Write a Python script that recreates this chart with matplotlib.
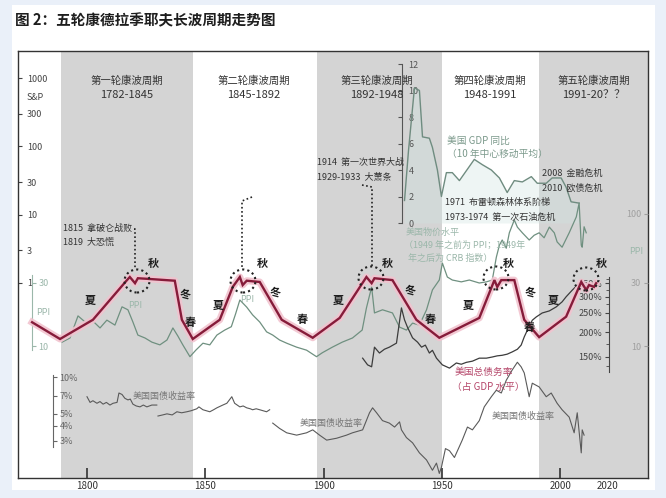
import matplotlib
matplotlib.use("Agg")
import matplotlib.pyplot as plt
from matplotlib.lines import Line2D
from matplotlib.patches import Ellipse, Rectangle
from matplotlib.ticker import FixedLocator, NullLocator
import numpy as np

plt.rcParams["font.family"] = ["Noto Sans CJK SC", "DejaVu Sans"]

W, H = 666, 498

# ---- data ----
CYCLE_NAMES = ["第一轮康波周期", "第二轮康波周期", "第三轮康波周期", "第四轮康波周期", "第五轮康波周期"]
CYCLE_PERIODS = ["1782-1845", "1845-1892", "1892-1948", "1948-1991", "1991-20？？"]
BAND_SPANS = [(1789, 1845), (1897, 1950), (1991, 2040)]

SP_TICKS = [1, 3, 10, 30, 100, 300, 1000]

# schematic Kondratiev wave
WAVE_YEARS = [1776.8, 1788.6, 1802.5, 1816.9, 1818.1, 1820.3, 1821.5, 1825.7, 1837.1, 1840.1, 1844.7,
              1856.1, 1861.6, 1864.6, 1865.8, 1867.5, 1873.0, 1882.3, 1895.4,
              1906.8, 1918.1, 1920.3, 1921.5, 1929.1, 1939.2, 1948.9,
              1965.8, 1972.2, 1973.4, 1975.1, 1980.6, 1984.8, 1991.1,
              2002.5, 2008.9, 2011.0, 2012.2, 2014.3, 2015.2]
WAVE_LEVEL = [27, 0, 31, 95, 100, 90, 98, 97, 94, 31, 0,
              31, 84, 100, 87, 94, 92, 31, 2,
              34, 100, 90, 98, 95, 31, 2,
              34, 95, 84, 95, 95, 31, 3,
              36, 92, 79, 87, 84, 90]

# producer prices (before 1949) / CRB index (after)
PPI_YEARS = [1789.5, 1792.8, 1796.2, 1799.2, 1802.1, 1805.5, 1808.4, 1811.8, 1814.8, 1817.3, 1819.4,
             1821.5, 1824.5, 1827.4, 1830.8, 1833.8, 1836.3, 1838.4, 1840.5, 1843.5, 1846.0, 1849.0,
             1851.9, 1854.9, 1858.2, 1861.0, 1862.8, 1864.6, 1867.5, 1870.0, 1873.0, 1875.9, 1878.5,
             1881.4, 1884.4, 1888.6, 1892.8, 1897.0, 1899.5, 1903.7, 1907.9, 1912.2, 1916.3, 1918.1,
             1920.3, 1921.5, 1924.9, 1929.1, 1932.1, 1935.0, 1937.6, 1940.5, 1943.5, 1946.0, 1948.9,
             1950.2, 1952.3, 1954.4, 1958.2, 1961.6, 1965.8, 1968.8, 1971.3, 1973.0, 1974.3, 1975.5,
             1977.2, 1978.5, 1980.6, 1981.9, 1984.0, 1986.9, 1989.0, 1991.1, 1993.2, 1995.4, 1997.5,
             1998.7, 2000.8, 2003.8, 2006.8, 2008.0, 2008.9, 2009.3, 2010.1, 2011.0]
PPI_VALUES = [10.7, 11.5, 16.9, 15.2, 15.7, 13.7, 15.7, 14.4, 19.8, 18.8, 15.2,
              12.1, 11.5, 10.7, 10.2, 11.1, 13.7, 11.9, 10.2, 8.3, 9.3, 10.5,
              10.2, 12.1, 13.2, 14.0, 17.5, 22.3, 19.7, 17.2, 15.2, 12.8, 12.1,
              11.1, 10.5, 9.8, 9.3, 8.3, 8.9, 9.8, 10.7, 11.5, 13.2, 19.4,
              28.0, 17.8, 18.8, 17.8, 13.9, 13.2, 14.9, 14.4, 18.8, 26.6, 31.6,
              42.5, 33.3, 31.6, 30.6, 31.6, 30.0, 30.6, 31.6, 47.0, 58.0, 63.5,
              55.0, 72.0, 90.0, 79.5, 72.0, 63.5, 69.0, 72.0, 66.0, 79.5, 72.0,
              61.4, 56.0, 72.0, 95.0, 121.0, 58.0, 56.0, 80.0, 72.0]

# US GDP growth, 10-year centred moving average (%)
GDP_YEARS = [1934.2, 1935.9, 1938.4, 1940.5, 1941.8, 1944.7, 1946.0, 1948.1, 1949.8, 1951.9, 1954.4,
             1957.4, 1963.7, 1967.1, 1970.9, 1974.3, 1977.6, 1980.6, 1984.0, 1987.8, 1990.3, 1994.1,
             1996.6, 2000.4, 2002.5, 2004.6, 2008.0]
GDP_VALUES = [1.7, 5.5, 10.2, 10.0, 6.5, 6.4, 5.7, 4.0, 2.0, 3.8, 3.8,
              3.2, 4.8, 4.4, 4.0, 3.4, 2.3, 3.2, 3.1, 3.5, 3.0, 3.0,
              3.4, 3.4, 2.7, 1.6, 1.5]

# US total debt / GDP (%)
DEBT_YEARS = [1916.5, 1918.6, 1920.3, 1921.5, 1923.6, 1925.7, 1927.8, 1930.8, 1932.9, 1934.2, 1935.4,
              1937.6, 1939.7, 1941.4, 1943.0, 1944.7, 1946.0, 1947.7, 1950.2, 1953.2, 1956.1, 1958.2,
              1960.3, 1962.9, 1965.8, 1968.8, 1971.3, 1973.4, 1975.5, 1977.6, 1979.7, 1981.9, 1983.5,
              1984.8, 1986.9, 1988.2, 1989.9, 1992.4, 1995.4, 1998.3, 2000.8, 2002.5, 2005.1, 2007.2,
              2009.3]
DEBT_VALUES = [148, 137, 134, 168, 157, 164, 168, 176, 264, 230, 212,
               187, 178, 168, 172, 157, 162, 148, 137, 132, 140, 138,
               141, 143, 148, 148, 150, 152, 153, 155, 159, 164, 172,
               189, 214, 229, 238, 249, 255, 267, 283, 300, 324, 343,
               364]

# US government bond yield (%), three separate segments
BOND1_YEARS = [1800.0, 1801.3, 1802.5, 1804.2, 1805.5, 1806.8, 1808.2, 1809.7, 1811.0, 1812.7, 1813.5,
               1814.8, 1816.0, 1817.3, 1818.3, 1819.4, 1820.8, 1822.4, 1823.8, 1825.3, 1827.4, 1829.5]
BOND1_VALUES = [6.9, 6.2, 6.4, 6.1, 6.3, 6.0, 6.2, 5.9, 6.1, 6.2, 7.4,
                7.2, 6.7, 6.5, 6.6, 6.0, 5.8, 5.7, 5.9, 5.7, 5.9, 5.9]
BOND2_YEARS = [1830.0, 1832.0, 1833.8, 1836.0, 1838.0, 1840.0, 1842.2, 1844.0, 1846.4, 1847.3, 1849.0,
               1851.9, 1853.5, 1854.9, 1857.4, 1859.1, 1861.2, 1862.4, 1864.6, 1866.0, 1867.5, 1869.0,
               1870.0, 1871.5, 1873.0, 1875.9, 1877.2]
BOND2_VALUES = [4.8, 4.9, 5.0, 4.9, 5.2, 5.1, 5.2, 5.3, 5.5, 5.7, 5.4,
                5.2, 5.4, 5.6, 5.9, 6.1, 6.9, 6.1, 5.7, 5.8, 5.6, 5.5,
                5.4, 5.5, 5.4, 5.2, 5.4]
BOND3_YEARS = [1878.5, 1881.4, 1884.4, 1888.6, 1892.8, 1895.4, 1898.3, 1901.3, 1905.5, 1909.7, 1912.2,
               1916.5, 1919.4, 1920.7, 1922.4, 1924.9, 1927.8, 1930.0, 1932.1, 1932.9, 1935.0, 1937.6,
               1940.5, 1943.5, 1946.0, 1947.7, 1948.9, 1949.8, 1951.5, 1953.2, 1955.3, 1958.6, 1960.8,
               1962.9, 1965.8, 1967.9, 1970.9, 1973.0, 1975.1, 1977.2, 1979.7, 1981.9, 1983.5, 1984.8,
               1986.9, 1988.2, 1991.1, 1994.1, 1996.2, 1998.7, 2000.8, 2003.8, 2005.9, 2007.2, 2008.9,
               2009.3, 2010.1]
BOND3_VALUES = [4.2, 3.8, 3.5, 3.35, 3.5, 3.7, 3.35, 3.05, 3.16, 3.35, 3.5,
                3.7, 5.1, 5.6, 5.1, 4.4, 4.2, 3.9, 4.3, 3.7, 3.2, 2.9,
                2.4, 2.1, 1.73, 1.98, 1.63, 1.83, 2.6, 2.5, 2.2, 3.05, 3.9,
                3.7, 4.4, 5.7, 6.9, 7.8, 7.4, 9.4, 11.4, 13.2, 12.1, 10.8,
                6.9, 8.9, 8.3, 6.9, 7.4, 6.1, 5.4, 4.7, 3.5, 5.1, 2.4,
                3.7, 3.35]

# ---- layout (pixel frame of the picture) ----
AX_L, AX_R, AX_T, AX_B = 18, 648, 51, 478
PX_PER_YEAR = 2.366
X0 = 1800 - (87 - AX_L) / PX_PER_YEAR
X1 = X0 + (AX_R - AX_L) / PX_PER_YEAR
AX_RECT = [AX_L / W, 1 - AX_B / H, (AX_R - AX_L) / W, (AX_B - AX_T) / H]

GRAY_TXT = "#333333"
PPI_COLOR = "#6f9080"
PPI_LIGHT = "#9bb7aa"
DEBT_COLOR = "#3c3c3c"
DEBT_LABEL = "#b5476a"
BOND_COLOR = "#5a5a5a"
WAVE_COLOR = "#861c3a"
WAVE_GLOW = "#f2c3cf"


def fit_ylim(v0, p0, v1, p1, log):
    f = np.log10 if log else (lambda v: v)
    a0, a1 = f(v0), f(v1)
    slope = (a1 - a0) / (p1 - p0)
    lo = a0 + (AX_B - p0) * slope
    hi = a0 + (AX_T - p0) * slope
    return (10 ** lo, 10 ** hi) if log else (lo, hi)


def px(x, y):
    return x / W, 1 - y / H


fig = plt.figure(figsize=(W / 100, H / 100), dpi=100)
fig.patch.set_facecolor("#eaf0f9")
fig.add_artist(Rectangle(px(12, 490), (655 - 12) / W, (490 - 5) / H, transform=fig.transFigure,
                         facecolor="white", edgecolor="none", zorder=-1))

ax = fig.add_axes(AX_RECT)
ax.set_xlim(X0, X1)
ax.set_yscale("log")
ax.set_ylim(*fit_ylim(1, 283, 1000, 78, True))
for a, b in BAND_SPANS:
    ax.axvspan(a, b, color="#d4d4d4", lw=0, zorder=0)
for s in ax.spines.values():
    s.set_color("#333333")
    s.set_linewidth(1.0)
ax.yaxis.set_minor_locator(NullLocator())
ax.set_yticks(SP_TICKS)
ax.set_yticklabels([str(v) for v in SP_TICKS])
ax.tick_params(axis="y", direction="in", length=3, pad=-6.5, labelsize=6.5, colors="#444444")
plt.setp(ax.get_yticklabels(), ha="left")
xt = [1800, 1850, 1900, 1950, 2000, 2020]
ax.set_xticks(xt)
ax.set_xticklabels([str(v) for v in xt])
ax.tick_params(axis="x", direction="in", length=7.5, width=1.2, pad=2, labelsize=7, colors=GRAY_TXT)
ax.xaxis.get_major_ticks()[-1].tick1line.set_visible(False)


def overlay(scale, lim):
    a = fig.add_axes(AX_RECT, sharex=ax)
    a.set_yscale(scale)
    a.set_ylim(*lim)
    a.patch.set_visible(False)
    for s in a.spines.values():
        s.set_visible(False)
    a.xaxis.set_visible(False)
    a.yaxis.set_minor_locator(NullLocator())
    a.tick_params(axis="y", which="both", left=False, right=False, labelleft=False, labelright=False)
    return a


# GDP growth
axg = overlay("linear", fit_ylim(0, 223, 12, 64, False))
axg.fill_between(GDP_YEARS, 0, GDP_VALUES, color="#cfe3e1", alpha=0.35, lw=0)
axg.plot(GDP_YEARS, GDP_VALUES, color="#6f8c80", lw=1.0)
axg.spines["left"].set_visible(True)
axg.spines["left"].set_position(("data", 1933.3))
axg.spines["left"].set_bounds(0, 12)
axg.spines["left"].set_color("#555555")
axg.set_yticks(range(0, 13, 2))
axg.set_yticklabels([str(v) for v in range(0, 13, 2)])
axg.tick_params(axis="y", left=True, labelleft=True, direction="out", length=3, pad=-7.5,
                labelsize=6.5, colors="#555555")
plt.setp(axg.get_yticklabels(), ha="left")

# price level
ppi_lim = fit_ylim(10, 346, 30, 283, True)
axp = overlay("log", ppi_lim)
axp.plot(PPI_YEARS, PPI_VALUES, color=PPI_COLOR, lw=0.9)
axp.spines["left"].set_visible(True)
axp.spines["left"].set_position(("data", 1776.8))
axp.spines["left"].set_bounds(9.3, 34.5)
axp.spines["left"].set_color(PPI_LIGHT)
axp.set_yticks([10, 30])
axp.set_yticklabels(["10", "30"])
axp.tick_params(axis="y", left=True, labelleft=True, direction="in", length=3, pad=-4.5,
                labelsize=6.5, colors=PPI_LIGHT)
plt.setp(axp.get_yticklabels(), ha="left")

axp2 = overlay("log", ppi_lim)
axp2.set_yticks([10, 30, 100])
axp2.set_yticklabels(["10", "30", "100"])
axp2.tick_params(axis="y", right=True, labelright=True, direction="in", length=3, pad=-5,
                 labelsize=6.5, colors="#a0a0a0")
plt.setp(axp2.get_yticklabels(), ha="right")

# debt ratio
axd = overlay("log", fit_ylim(150, 357, 1500, 157, True))
axd.plot(DEBT_YEARS, DEBT_VALUES, color=DEBT_COLOR, lw=0.9)
axd.spines["right"].set_visible(True)
axd.spines["right"].set_position(("data", 2020.7))
axd.spines["right"].set_bounds(126, 377)
axd.spines["right"].set_color("#444444")
debt_ticks = [150, 200, 250, 300, 350]
axd.set_yticks(debt_ticks)
axd.set_yticklabels([f"{v}%" for v in debt_ticks])
axd.yaxis.set_minor_locator(FixedLocator([135, 175, 225, 275, 325, 370]))
axd.tick_params(axis="y", which="both", right=True, labelright=True, direction="in", length=3, pad=-5,
                labelsize=6.5, colors="#444444")
axd.tick_params(axis="y", which="minor", length=2, labelright=False)
plt.setp(axd.get_yticklabels(), ha="right")

# bond yields
axb = overlay("log", fit_ylim(10, 377, 3, 441, True))
for yrs, vals in [(BOND1_YEARS, BOND1_VALUES), (BOND2_YEARS, BOND2_VALUES), (BOND3_YEARS, BOND3_VALUES)]:
    axb.plot(yrs, vals, color=BOND_COLOR, lw=0.8)
axb.spines["left"].set_visible(True)
axb.spines["left"].set_position(("data", 1785.7))
axb.spines["left"].set_bounds(2.7, 10.4)
axb.spines["left"].set_color("#666666")
bond_ticks = [3, 4, 5, 7, 10]
axb.set_yticks(bond_ticks)
axb.set_yticklabels([f"{v}%" for v in bond_ticks])
axb.tick_params(axis="y", left=True, labelleft=True, direction="in", length=3, pad=-4.5,
                labelsize=6.5, colors="#666666")
plt.setp(axb.get_yticklabels(), ha="left")

# Kondratiev wave
axc = overlay("linear", fit_ylim(0, 339, 100, 277, False))
axc.plot(WAVE_YEARS, WAVE_LEVEL, color=WAVE_GLOW, lw=5, alpha=0.9, solid_joinstyle="round")
axc.plot(WAVE_YEARS, WAVE_LEVEL, color=WAVE_COLOR, lw=1.7, solid_joinstyle="miter")

# ---- annotations ----
fig.text(*px(15, 20), "图 2：五轮康德拉季耶夫长波周期走势图", fontsize=10.5, fontweight="bold",
         color="#1e1e1e", ha="left", va="center")

for name, period, cx in zip(CYCLE_NAMES, CYCLE_PERIODS, [127, 254, 377, 490, 594]):
    fig.text(*px(cx, 81), name, fontsize=7.5, color=GRAY_TXT, ha="center", va="center")
    fig.text(*px(cx, 95), period, fontsize=8, color=GRAY_TXT, ha="center", va="center")

events = [("1815  拿破仑战败", 63, 228), ("1819  大恐慌", 63, 242),
          ("1914  第一次世界大战", 317, 162), ("1929-1933  大萧条", 317, 177),
          ("1971  布雷顿森林体系阶梯", 445, 202), ("1973-1974  第一次石油危机", 445, 217),
          ("2008  金融危机", 542, 173), ("2010  欧债危机", 542, 188)]
for t, x, y in events:
    fig.text(*px(x, y), t, fontsize=6.5, color=GRAY_TXT, ha="left", va="center")

seasons = [("夏", 90, 300), ("秋", 153, 263), ("冬", 185, 294), ("春", 190, 322),
           ("夏", 218, 305), ("秋", 262, 263), ("冬", 275, 292), ("春", 302, 320),
           ("夏", 338, 300), ("秋", 387, 263), ("冬", 410, 290), ("春", 430, 320),
           ("夏", 468, 305), ("秋", 508, 263), ("冬", 530, 292), ("春", 529, 328),
           ("夏", 553, 300), ("秋", 601, 263)]
for t, x, y in seasons:
    fig.text(*px(x, y), t, fontsize=8, fontweight="bold", color="#1e1e1e", ha="center", va="center")

for cx, cy in [(137, 281), (243, 281), (371, 278), (496, 278), (586, 279)]:
    fig.add_artist(Ellipse(px(cx, cy), 25 / W, 23 / H, transform=fig.transFigure, fill=False,
                           edgecolor="#222222", lw=1.5, linestyle=(0, (1, 1.5))))

for xs, ys in [([134, 135, 135], [229, 229, 268]),
               ([252, 242, 242], [197, 201, 269]),
               ([362, 372, 372], [185, 187, 266])]:
    fig.add_artist(Line2D([x / W for x in xs], [1 - y / H for y in ys], transform=fig.transFigure,
                          color="#222222", lw=1.2, linestyle=(0, (1, 1.5))))

labels = [("S&P", 27, 97, "#444444", 6.5),
          ("PPI", 36, 312, PPI_LIGHT, 6.5), ("PPI", 128, 305, PPI_LIGHT, 6.5),
          ("PPI", 240, 299, PPI_LIGHT, 6.5), ("PPI", 629, 251, PPI_LIGHT, 6.5),
          ("美国 GDP 同比", 447, 141, "#7c9a8c", 7), ("（10 年中心移动平均）", 447, 154, "#7c9a8c", 7),
          ("美国物价水平", 406, 232, PPI_LIGHT, 6.5), ("（1949 年之前为 PPI；1949年", 404, 245, PPI_LIGHT, 6.5),
          ("年之后为 CRB 指数）", 408, 258, PPI_LIGHT, 6.5),
          ("美国总债务率", 455, 372, DEBT_LABEL, 7), ("（占 GDP 水平）", 452, 387, DEBT_LABEL, 7),
          ("美国国债收益率", 133, 396, "#777777", 6.5), ("美国国债收益率", 300, 423, "#777777", 6.5),
          ("美国国债收益率", 492, 416, "#777777", 6.5)]
for t, x, y, c, fs in labels:
    fig.text(*px(x, y), t, fontsize=fs, color=c, ha="left", va="center")

fig.savefig("out.png", dpi=100)
